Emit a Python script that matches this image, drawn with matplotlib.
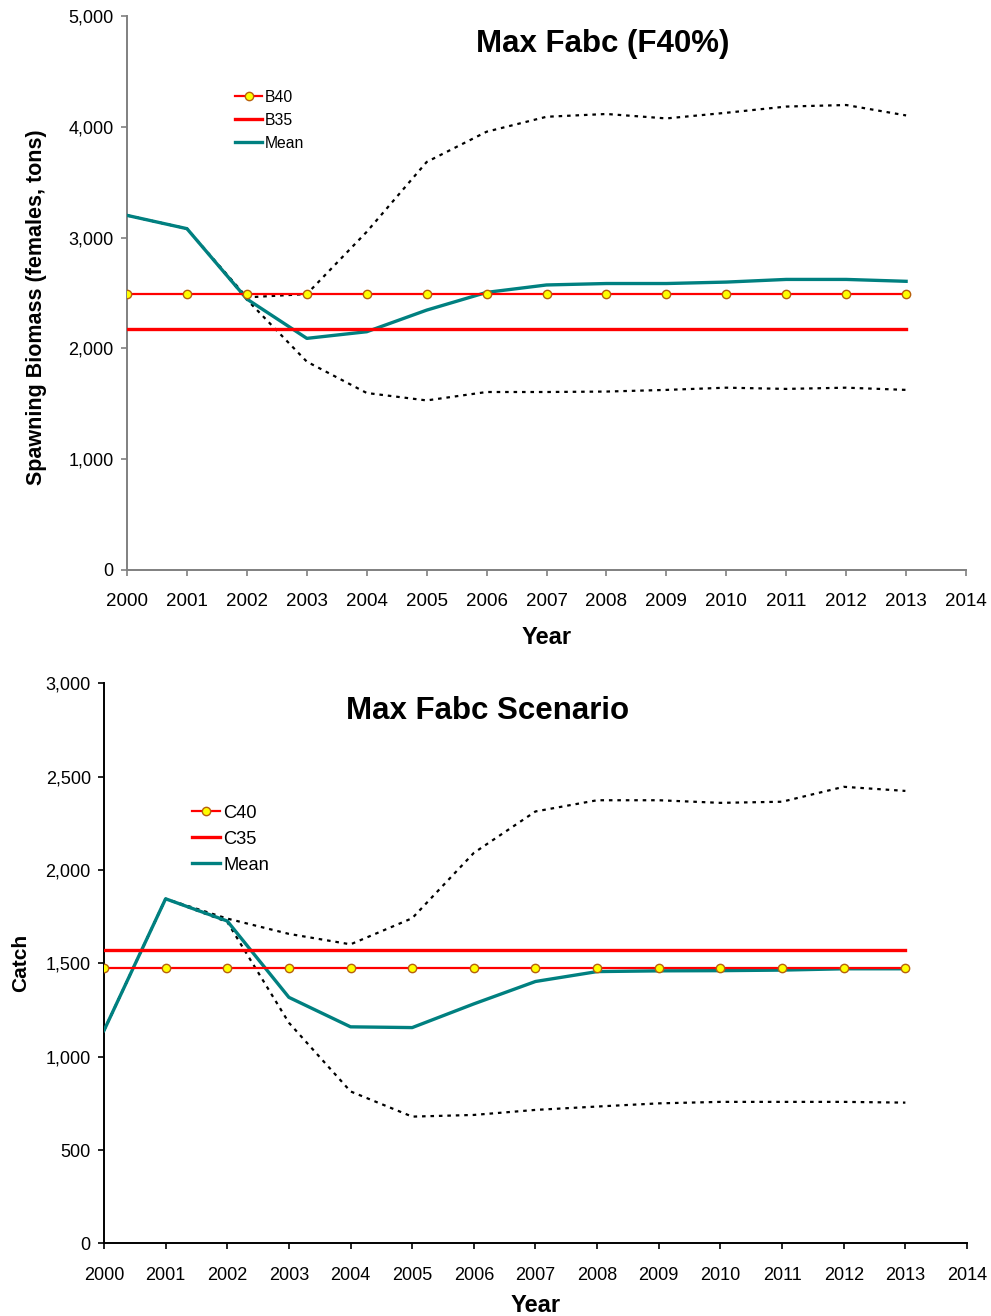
import numpy as np
import matplotlib.pyplot as plt

plt.rcParams['font.family'] = ['Liberation Sans', 'DejaVu Sans']

years = np.arange(2000, 2014)
year_ticks = np.arange(2000, 2015)

# spawning biomass projection (females, tons)
ssb_mean = [3200, 3080, 2445, 2090, 2150, 2345, 2505, 2572, 2585, 2585, 2598, 2622, 2622, 2605]
ssb_upper = [3200, 3080, 2460, 2490, 3052, 3682, 3955, 4090, 4115, 4075, 4126, 4182, 4196, 4102]
ssb_lower = [3200, 3080, 2440, 1880, 1597, 1530, 1606, 1606, 1610, 1625, 1645, 1634, 1645, 1625]
b40 = 2490
b35 = 2178

# catch projection
catch_mean = [1140, 1846, 1727, 1318, 1160, 1156, 1283, 1403, 1456, 1460, 1461, 1464, 1471, 1471]
catch_upper = [1140, 1846, 1740, 1658, 1602, 1742, 2092, 2314, 2374, 2374, 2360, 2366, 2446, 2424]
catch_lower = [1140, 1846, 1722, 1182, 814, 679, 688, 715, 733, 750, 758, 758, 758, 754]
c40 = 1476
c35 = 1569

RED = '#FF0000'
TEAL = '#008080'
DOT = (0, (1.6, 2.2))


def draw_panel(ax, mean, upper, lower, ref40, ref35, lab40, lab35, spine_col):
    ax.plot(years, upper, color='black', lw=1.6, ls=DOT, zorder=2)
    ax.plot(years, lower, color='black', lw=1.6, ls=DOT, zorder=2)
    h_mean, = ax.plot(years, mean, color=TEAL, lw=2.4, zorder=3, label='Mean')
    h35, = ax.plot(years, [ref35] * len(years), color=RED, lw=2.4, zorder=4, label=lab35)
    h40, = ax.plot(years, [ref40] * len(years), color=RED, lw=1.6, zorder=5,
                   marker='o', ms=6, mfc='#FFFF00', mec='#B8600B', mew=1.0, label=lab40)
    ax.set_xlim(2000, 2014)
    ax.set_xticks(year_ticks)
    ax.set_xticklabels([str(y) for y in year_ticks])
    for s in ['top', 'right']:
        ax.spines[s].set_visible(False)
    for s in ['left', 'bottom']:
        ax.spines[s].set_color(spine_col)
        ax.spines[s].set_linewidth(1.4)
    ax.tick_params(color=spine_col, width=1.2, length=4.5, direction='out')
    ax.yaxis.set_major_formatter(plt.FuncFormatter(lambda v, p: f'{int(v):,}'))
    return [h40, h35, h_mean]


fig = plt.figure(figsize=(9.91, 13.16), dpi=100)

# top panel: spawning biomass
ax1 = fig.add_axes([0.1282, 0.5669, 0.8466, 0.4210])
handles = draw_panel(ax1, ssb_mean, ssb_upper, ssb_lower, b40, b35, 'B40', 'B35', '#808080')
ax1.set_ylim(0, 5000)
ax1.set_yticks(np.arange(0, 5001, 1000))
ax1.tick_params(axis='x', labelsize=13.5, pad=12)
ax1.tick_params(axis='y', labelsize=13, pad=5)
ax1.set_xlabel('Year', fontsize=17, fontweight='bold')
ax1.xaxis.set_label_coords(0.5, -0.102)
ax1.set_ylabel('Spawning Biomass (females, tons)', fontsize=15.5, fontweight='bold')
ax1.yaxis.set_label_coords(-0.096, 0.475)
ax1.text(0.567, 0.949, 'Max Fabc (F40%)', transform=ax1.transAxes, ha='center', va='center',
         fontsize=22.5, fontweight='bold')
ax1.legend(handles=handles, loc='upper left', bbox_to_anchor=(0.1287, 0.8668), frameon=False,
           fontsize=11.3, handlelength=1.72, handletextpad=0.2, labelspacing=0.51,
           borderpad=0, borderaxespad=0, numpoints=1)

# bottom panel: catch
ax2 = fig.add_axes([0.1049, 0.0552, 0.8709, 0.4255])
handles = draw_panel(ax2, catch_mean, catch_upper, catch_lower, c40, c35, 'C40', 'C35', 'black')
ax2.set_ylim(0, 3000)
ax2.set_yticks(np.arange(0, 3001, 500))
ax2.tick_params(axis='x', labelsize=13, pad=12.5)
ax2.tick_params(axis='y', labelsize=13, pad=5)
ax2.set_xlabel('Year', fontsize=17, fontweight='bold')
ax2.xaxis.set_label_coords(0.5, -0.0905)
ax2.set_ylabel('Catch', fontsize=15, fontweight='bold')
ax2.yaxis.set_label_coords(-0.0857, 0.5)
ax2.text(0.444, 0.950, 'Max Fabc Scenario', transform=ax2.transAxes, ha='center', va='center',
         fontsize=22.5, fontweight='bold')
ax2.legend(handles=handles, loc='upper left', bbox_to_anchor=(0.102, 0.7836), frameon=False,
           fontsize=13.2, handlelength=1.55, handletextpad=0.15, labelspacing=0.49,
           borderpad=0, borderaxespad=0, numpoints=1)

fig.savefig('out.png', dpi=100)
